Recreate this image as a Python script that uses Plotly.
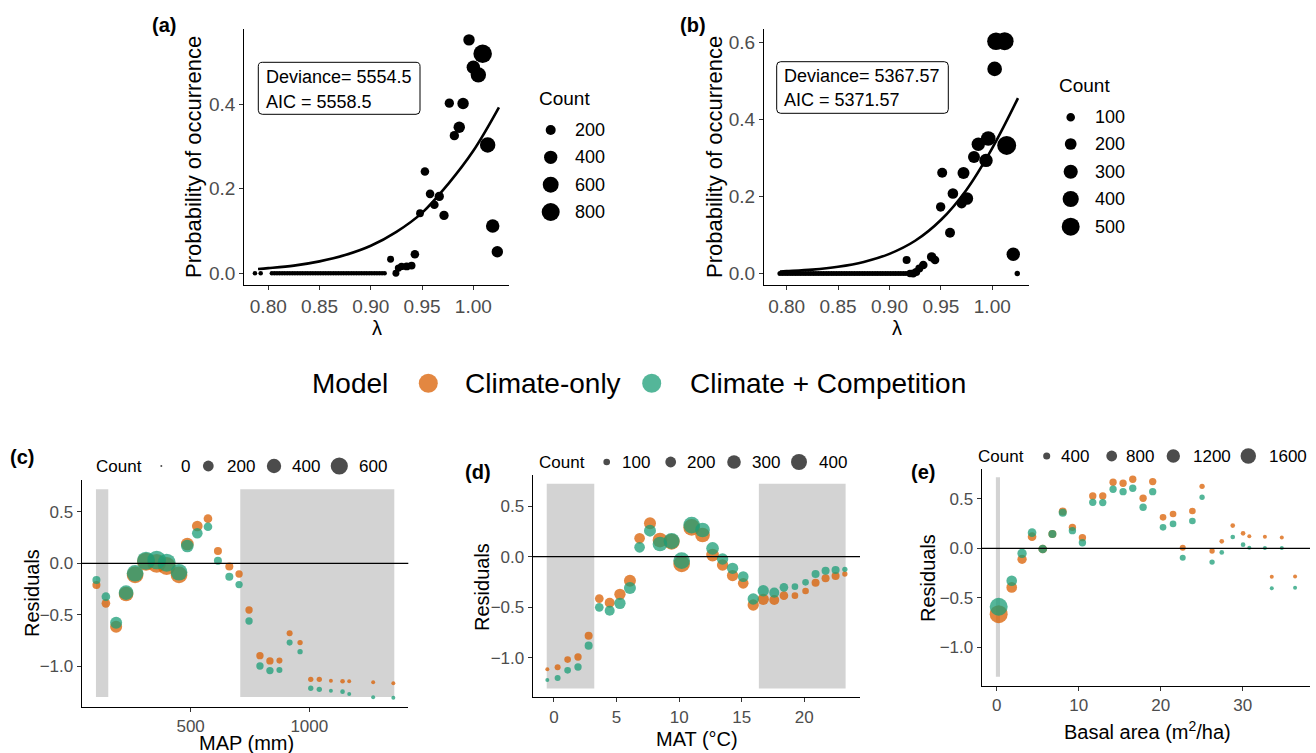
import math
import plotly.graph_objects as go

# ---------------- DATA ----------------
# Panel (a): lambda vs probability of occurrence (climate-only)
a_small_lambda = [0.7870, 0.7926, 0.8035, 0.8060, 0.8085, 0.8110, 0.8135, 0.8160, 0.8185, 0.8210,
                  0.8235, 0.8260, 0.8285, 0.8310, 0.8335, 0.8360, 0.8385, 0.8410, 0.8435, 0.8460,
                  0.8485, 0.8510, 0.8535, 0.8560, 0.8585, 0.8610, 0.8635, 0.8660, 0.8685, 0.8710,
                  0.8735, 0.8760, 0.8785, 0.8810, 0.8835, 0.8860, 0.8885, 0.8910, 0.8935, 0.8960,
                  0.8985, 0.9010, 0.9035, 0.9060, 0.9085, 0.9110, 0.9135]
a_lambda = [0.9958, 1.0091, 1.0000, 1.0049, 0.9766, 0.9900, 0.9863, 0.9815, 1.0140, 0.9528,
            0.9578, 0.9668, 0.9620, 0.9714, 0.9480, 1.0189, 1.0234, 0.9430, 0.9193, 0.9398,
            0.9350, 0.9300, 0.9270, 0.9245]
a_prob = [0.553, 0.520, 0.488, 0.470, 0.403, 0.402, 0.346, 0.326, 0.304, 0.241,
          0.188, 0.182, 0.162, 0.137, 0.142, 0.112, 0.051, 0.045, 0.033, 0.018,
          0.016, 0.016, 0.012, 0.0]
a_count = [277, 850, 409, 563, 166, 277, 277, 166, 563, 134,
           134, 166, 134, 166, 104, 409, 277, 134, 76, 104,
           104, 89, 89, 76]
a_small_count = 20
a_fit_lambda = [0.790, 0.800, 0.825, 0.850, 0.875, 0.900, 0.925, 0.950, 0.975, 1.000, 1.025]
a_fit_prob = [0.010, 0.012, 0.018, 0.028, 0.043, 0.065, 0.098, 0.143, 0.210, 0.290, 0.393]
a_text = ["Deviance= 5554.5", "AIC = 5558.5"]
a_legend_counts = [200, 400, 600, 800]

# Panel (b): lambda vs probability of occurrence (climate + competition)
b_small_lambda = [0.7935, 0.7960, 0.7985, 0.8010, 0.8035, 0.8060, 0.8085, 0.8110, 0.8135, 0.8160,
                  0.8185, 0.8210, 0.8235, 0.8260, 0.8285, 0.8310, 0.8335, 0.8360, 0.8385, 0.8410,
                  0.8435, 0.8460, 0.8485, 0.8510, 0.8535, 0.8560, 0.8585, 0.8610, 0.8635, 0.8660,
                  0.8685, 0.8710, 0.8735, 0.8760, 0.8785, 0.8810, 0.8835, 0.8860, 0.8885, 0.8910,
                  0.8935, 0.8960, 0.8985, 0.9010, 0.9035, 0.9060, 0.9085, 0.9110, 0.9135, 0.9160]
b_lambda = [1.0036, 1.0120, 1.0023, 1.0140, 0.9961, 0.9864, 0.9822, 0.9939, 0.9720, 0.9513,
            0.9617, 0.9753, 0.9702, 0.9498, 0.9589, 1.0204, 1.0243, 0.9167, 0.9410, 0.9443,
            0.9329, 0.9290, 0.9260, 0.9230, 0.9200]
b_prob = [0.604, 0.604, 0.532, 0.333, 0.351, 0.336, 0.303, 0.294, 0.261, 0.262,
          0.208, 0.195, 0.182, 0.173, 0.106, 0.050, 0.0, 0.035, 0.043, 0.035,
          0.022, 0.013, 0.004, 0.0, 0.0]
b_count = [480, 500, 324, 560, 320, 267, 210, 267, 210, 140,
           160, 233, 140, 122, 140, 267, 33, 85, 122, 100,
           100, 85, 85, 85, 70]
b_small_count = 28
b_fit_lambda = [0.7935, 0.800, 0.825, 0.850, 0.875, 0.900, 0.925, 0.950, 0.975, 1.000, 1.025]
b_fit_prob = [0.005, 0.006, 0.010, 0.0175, 0.030, 0.051, 0.085, 0.139, 0.218, 0.326, 0.456]
b_text = ["Deviance= 5367.57", "AIC = 5371.57"]
b_legend_counts = [100, 200, 300, 400, 500]

# Panel (c): residuals vs MAP
c_map = [103, 143, 186, 228, 266, 312, 357, 399, 451, 486, 528, 573, 615, 663, 704,
         746, 792, 834, 874, 917, 961, 1006, 1042, 1091, 1140, 1168, 1269, 1354]
c_clim = [-0.211, -0.389, -0.616, -0.298, -0.113, 0.016, 0.0, -0.026, -0.113, 0.188, 0.363,
          0.434, 0.120, -0.032, -0.104, -0.454, -0.898, -0.949, -0.946, -0.680, -0.771,
          -1.128, -1.128, -1.141, -1.147, -1.147, -1.157, -1.167]
c_comp = [-0.162, -0.324, -0.577, -0.285, -0.097, 0.026, 0.032, 0.006, -0.087, 0.168, 0.292,
          0.356, 0.026, -0.130, -0.207, -0.561, -0.998, -1.043, -1.037, -0.771, -0.859,
          -1.215, -1.225, -1.238, -1.248, -1.270, -1.303, -1.306]
c_count = [94, 115, 260, 417, 559, 666, 722, 666, 559, 296, 195, 115, 94, 94, 74,
           74, 74, 74, 42, 42, 29, 29, 29, 10, 18, 10, 10, 10]
c_shade = [(101, 153), (709, 1358)]
c_legend_counts = [0, 200, 400, 600]

# Panel (d): residuals vs MAT
d_mat = [-0.53, 0.29, 1.09, 1.92, 2.77, 3.62, 4.45, 5.27, 6.07, 6.84, 7.67, 8.47, 9.40, 10.2, 11.0,
         11.87, 12.67, 13.47, 14.27, 15.12, 15.92, 16.72, 17.6, 18.37, 19.25, 20.1, 20.9, 21.7, 22.5, 23.24]
d_clim = [-1.112, -1.092, -1.016, -0.990, -0.780, -0.414, -0.454, -0.372, -0.237, 0.181, 0.329,
          0.164, 0.148, -0.072, 0.289, 0.214, 0.016, -0.082, -0.187, -0.263, -0.477, -0.421,
          -0.428, -0.385, -0.385, -0.339, -0.257, -0.214, -0.191, -0.171]
d_comp = [-1.217, -1.197, -1.122, -1.089, -0.878, -0.500, -0.533, -0.461, -0.309, 0.092, 0.257,
          0.125, 0.155, -0.039, 0.312, 0.263, 0.082, -0.023, -0.115, -0.197, -0.418, -0.336,
          -0.355, -0.303, -0.296, -0.253, -0.171, -0.138, -0.132, -0.125]
d_count = [64, 89, 100, 113, 127, 142, 177, 217, 239, 196, 239, 342, 402, 433, 433,
           342, 263, 217, 217, 196, 217, 217, 177, 142, 100, 100, 127, 127, 127, 79]
d_shade = [(-0.58, 3.22), (16.37, 23.3)]
d_legend_counts = [100, 200, 300, 400]

# Panel (e): residuals vs basal area
e_ba = [0.24, 1.83, 3.09, 4.31, 5.61, 6.79, 8.05, 9.23, 10.45, 11.71, 12.93, 14.19, 15.41, 16.59,
        17.85, 19.02, 20.28, 21.5, 22.68, 23.86, 25.04, 26.26, 27.44, 28.78, 30.04, 30.8, 32.7,
        33.54, 34.76, 36.38]
e_clim = [-0.666, -0.395, -0.111, 0.118, -0.007, 0.145, 0.372, 0.213, 0.108, 0.530, 0.530, 0.669,
          0.659, 0.699, 0.507, 0.676, 0.314, 0.348, 0.007, 0.378, 0.628, -0.027, 0.071, 0.230,
          0.152, 0.122, 0.118, -0.287, 0.111, -0.284]
e_comp = [-0.591, -0.328, -0.051, 0.159, -0.007, 0.145, 0.361, 0.179, 0.057, 0.466, 0.463, 0.598,
          0.574, 0.608, 0.416, 0.574, 0.213, 0.247, -0.095, 0.277, 0.517, -0.139, -0.041, 0.115,
          0.037, 0.007, 0.003, -0.405, 0.003, -0.399]
e_count = [2175, 779, 615, 543, 543, 478, 478, 420, 420, 420, 420, 420, 420, 420,
           420, 420, 368, 368, 323, 368, 286, 286, 255, 255, 255, 231, 231, 231, 231, 231]
e_shade = [(-0.1, 0.4)]
e_legend_counts = [400, 800, 1200, 1600]

y_shade = (-1.30, 0.72)
models = ["Climate-only", "Climate + Competition"]

# ---------------- STYLE ----------------
W, H = 1316, 753
FONT = "Liberation Sans, Arial, sans-serif"
ORANGE = "rgba(217,95,2,0.75)"
TEAL = "rgba(27,158,119,0.75)"
LEG_GREY = "rgba(0,0,0,0.7)"


def PX(x):
    return x / W


def PY(y):
    return 1 - y / H


# size mapping params per panel: radius = r0 + k*sqrt(max(c-c0,0))
SIZE = {"a": (1.02, 0.2825, 0), "b": (0.51, 0.379, 0), "c": (1.0, 0.31, 0),
        "d": (0.5, 0.4, 50), "e": (1.0, 0.18, 200)}


def radius(p, c):
    r0, k, c0 = SIZE[p]
    return r0 + k * math.sqrt(max(c - c0, 0))


def diam(p, counts):
    return [2 * radius(p, c) for c in counts]


fig = go.Figure()

# domains in pixels: (x0, x1, ytop, ybottom)
dom = {
    "a": (244.3, 509.3, 29.3, 285.0),
    "b": (764.0, 1029.3, 29.3, 285.0),
    "c": (81.7, 408.3, 480.0, 706.7),
    "d": (532.7, 860.0, 475.0, 697.3),
    "e": (981.7, 1310.0, 469.3, 685.7),
}
axis_ids = {"a": "", "b": "2", "c": "3", "d": "4", "e": "5"}
xranges = {"a": [0.7766, 1.0351], "b": [0.778, 1.036], "c": [41, 1417], "d": [-1.70, 24.45], "e": [-1.83, 38.2]}
yranges = {"a": [-0.028, 0.578], "b": [-0.030, 0.635], "c": [-1.394, 0.81], "d": [-1.388, 0.806], "e": [-1.39, 0.80]}
xticks = {"a": [0.80, 0.85, 0.90, 0.95, 1.00], "b": [0.80, 0.85, 0.90, 0.95, 1.00],
          "c": [500, 1000], "d": [0, 5, 10, 15, 20], "e": [0, 10, 20, 30]}
yticks = {"a": [0.0, 0.2, 0.4], "b": [0.0, 0.2, 0.4, 0.6],
          "c": [-1.0, -0.5, 0.0, 0.5], "d": [-1.0, -0.5, 0.0, 0.5], "e": [-1.0, -0.5, 0.0, 0.5]}

layout = {}
for p, (x0, x1, yt, yb) in dom.items():
    i = axis_ids[p]
    big = p in ("a", "b")
    tf = dict(family=FONT, size=19 if big else 17, color="#4D4D4D")
    xfmt = ".2f" if big else ""
    yfmt = ".1f"
    common = dict(showline=True, linecolor="black", linewidth=1.1, ticks="outside", ticklen=4,
                  tickwidth=1.1, tickcolor="#333333", showgrid=False, zeroline=False,
                  tickfont=tf, fixedrange=True)
    layout["xaxis" + i] = dict(domain=[PX(x0), PX(x1)], range=xranges[p], tickvals=xticks[p],
                               tickformat=xfmt, anchor="y" + i, **common)
    layout["yaxis" + i] = dict(domain=[PY(yb), PY(yt)], range=yranges[p], tickvals=yticks[p],
                               tickformat=yfmt, anchor="x" + i, **common)

# ---- panels (a) and (b) ----
for p, sl, sc, lam, prob, cnt, fl, fp in [
    ("a", a_small_lambda, a_small_count, a_lambda, a_prob, a_count, a_fit_lambda, a_fit_prob),
    ("b", b_small_lambda, b_small_count, b_lambda, b_prob, b_count, b_fit_lambda, b_fit_prob),
]:
    i = axis_ids[p]
    fig.add_trace(go.Scatter(x=sl, y=[0.0] * len(sl), mode="markers", xaxis="x" + i, yaxis="y" + i,
                             marker=dict(color="black", opacity=1, size=diam(p, [sc] * len(sl)),
                                         line=dict(width=0)),
                             showlegend=False, cliponaxis=False))
    fig.add_trace(go.Scatter(x=lam, y=prob, mode="markers", xaxis="x" + i, yaxis="y" + i,
                             marker=dict(color="black", opacity=1, size=diam(p, cnt), line=dict(width=0)),
                             showlegend=False, cliponaxis=False))
    fig.add_trace(go.Scatter(x=fl, y=fp, mode="lines", xaxis="x" + i, yaxis="y" + i,
                             line=dict(color="black", width=2.6, shape="spline", smoothing=1.0),
                             showlegend=False))

# ---- panels (c), (d), (e) ----
shapes = []
for p, xs, yc, yk, cnt, shade in [
    ("c", c_map, c_clim, c_comp, c_count, c_shade),
    ("d", d_mat, d_clim, d_comp, d_count, d_shade),
    ("e", e_ba, e_clim, e_comp, e_count, e_shade),
]:
    i = axis_ids[p]
    for (s0, s1) in shade:
        shapes.append(dict(type="rect", xref="x" + i, yref="y" + i, x0=s0, x1=s1,
                           y0=y_shade[0], y1=y_shade[1], fillcolor="rgb(211,211,211)",
                           line=dict(width=0), layer="below"))
    shapes.append(dict(type="line", xref="x" + i + " domain", yref="y" + i, x0=0, x1=1, y0=0, y1=0,
                       line=dict(color="black", width=1.2), layer="above"))
    fig.add_trace(go.Scatter(x=xs, y=yc, mode="markers", xaxis="x" + i, yaxis="y" + i,
                             marker=dict(color=ORANGE, opacity=1, size=diam(p, cnt), line=dict(width=0)),
                             name=models[0], showlegend=False, cliponaxis=False))
    fig.add_trace(go.Scatter(x=xs, y=yk, mode="markers", xaxis="x" + i, yaxis="y" + i,
                             marker=dict(color=TEAL, opacity=1, size=diam(p, cnt), line=dict(width=0)),
                             name=models[1], showlegend=False, cliponaxis=False))

annotations = []


def text(x, y, s, size, color="black", xanchor="center", bold=False, angle=0, yanchor="middle"):
    if bold:
        s = "<b>" + s + "</b>"
    annotations.append(dict(x=PX(x), y=PY(y), xref="paper", yref="paper", text=s, showarrow=False,
                            xanchor=xanchor, yanchor=yanchor, textangle=angle,
                            font=dict(family=FONT, size=size, color=color)))


def circle(x, y, r, color):
    shapes.append(dict(type="circle", xref="paper", yref="paper", xsizemode="pixel", ysizemode="pixel",
                       xanchor=PX(x), yanchor=PY(y), x0=-r, x1=r, y0=-r, y1=r,
                       fillcolor=color, line=dict(width=0), layer="above"))


def rounded_box(x0, y0, x1, y1, rr=4):
    X = lambda v: PX(v)
    Y = lambda v: PY(v)
    path = (f"M {X(x0+rr)},{Y(y0)} L {X(x1-rr)},{Y(y0)} Q {X(x1)},{Y(y0)} {X(x1)},{Y(y0+rr)} "
            f"L {X(x1)},{Y(y1-rr)} Q {X(x1)},{Y(y1)} {X(x1-rr)},{Y(y1)} "
            f"L {X(x0+rr)},{Y(y1)} Q {X(x0)},{Y(y1)} {X(x0)},{Y(y1-rr)} "
            f"L {X(x0)},{Y(y0+rr)} Q {X(x0)},{Y(y0)} {X(x0+rr)},{Y(y0)} Z")
    shapes.append(dict(type="path", xref="paper", yref="paper", path=path, fillcolor="white",
                       line=dict(color="black", width=1), layer="above"))


# panel labels
text(164, 25, "(a)", 20, bold=True)
text(693, 25, "(b)", 20, bold=True)
text(22, 457, "(c)", 20, bold=True)
text(478, 472, "(d)", 20, bold=True)
text(923, 472, "(e)", 20, bold=True)

# axis titles
text(193, 157, "Probability of occurrence", 22, angle=-90)
text(714, 157, "Probability of occurrence", 22, angle=-90)
text(377, 328, "λ", 20)
text(897, 328, "λ", 20)
text(32, 593, "Residuals", 20, angle=-90)
text(482, 587, "Residuals", 20, angle=-90)
text(928, 578, "Residuals", 20, angle=-90)
text(246, 743, "MAP (mm)", 20)
text(697, 739, "MAT (°C)", 20)
text(1147, 730, "Basal area (m<sup>2</sup>/ha)", 20)

# deviance boxes
rounded_box(258.3, 62.3, 420.0, 114.3)
text(264, 77, a_text[0], 18, xanchor="left")
text(264, 102, a_text[1], 18, xanchor="left")
rounded_box(776.7, 61.7, 948.3, 113.3)
text(782, 76, b_text[0], 18, xanchor="left")
text(782, 100, b_text[1], 18, xanchor="left")

# size legends (a) and (b)
text(537, 98, "Count", 19, xanchor="left")
for cval, yy in zip(a_legend_counts, [130, 157.3, 184.7, 212]):
    circle(550.7, yy, radius("a", cval), "black")
    text(573, yy, str(cval), 18, xanchor="left")
text(1057, 85, "Count", 19, xanchor="left")
for cval, yy in zip(b_legend_counts, [117.3, 144, 171.7, 199, 226.7]):
    circle(1070.7, yy, radius("b", cval), "black")
    text(1093, yy, str(cval), 18, xanchor="left")

# size legends (c), (d), (e)
text(119, 466, "Count", 17)
for cval, cx, lx in zip(c_legend_counts, [161.3, 208.3, 274, 339.3], [185, 241, 306, 373]):
    circle(cx, 466, radius("c", cval), LEG_GREY)
    text(lx, 466, str(cval), 17)
text(562, 462, "Count", 17)
for cval, cx, lx in zip(d_legend_counts, [606.7, 670.7, 734, 799], [636, 701, 765.5, 832.5]):
    circle(cx, 462, radius("d", cval), LEG_GREY)
    text(lx, 462, str(cval), 17)
text(1001, 456, "Count", 17)
for cval, cx, lx in zip(e_legend_counts, [1046.7, 1111.7, 1173.3, 1248.3], [1075, 1140, 1212, 1288]):
    circle(cx, 456, radius("e", cval), LEG_GREY)
    text(lx, 456, str(cval), 17)

# model legend
text(310, 383, "Model", 28, xanchor="left")
circle(428.3, 383.3, 9.5, ORANGE)
text(462.7, 383, models[0], 28, xanchor="left")
circle(651.7, 383.3, 9.5, TEAL)
text(688.3, 383, models[1], 28, xanchor="left")

fig.update_layout(width=W, height=H, margin=dict(l=0, r=0, t=0, b=0), paper_bgcolor="white",
                  plot_bgcolor="rgba(0,0,0,0)", showlegend=False, shapes=shapes, annotations=annotations,
                  font=dict(family=FONT), **layout)
fig.write_html("out.html")
